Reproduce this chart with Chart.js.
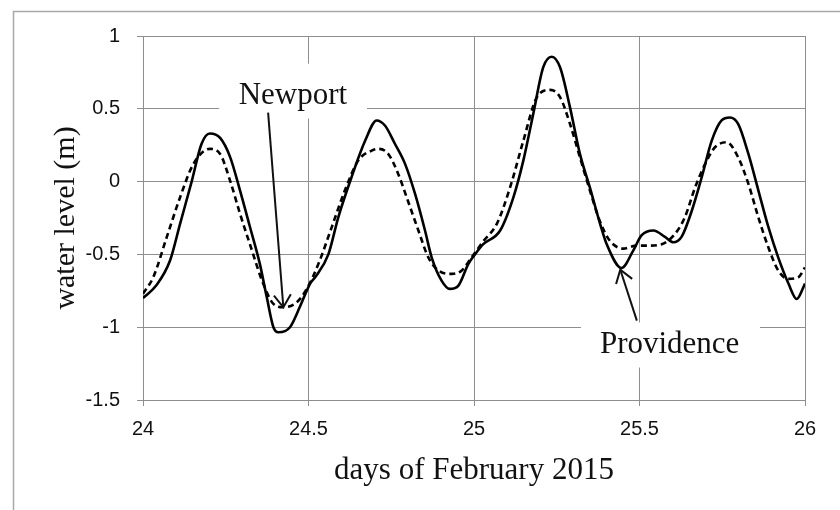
<!DOCTYPE html>
<html>
<head>
<meta charset="utf-8">
<script src="https://cdn.jsdelivr.net/npm/chart.js@4.4.1/dist/chart.umd.min.js"></script>
<style>
  html, body { margin: 0; padding: 0; background: #fff; }
  #wrap { width: 840px; height: 510px; position: relative; }
</style>
</head>
<body>
<div id="wrap"><canvas id="c" width="840" height="510"></canvas></div>
<script>
// ---- data ----
const dayTicks = [24, 24.5, 25, 25.5, 26];
const levelTicks = [-1.5, -1, -0.5, 0, 0.5, 1];

const providenceDays = [24.000, 24.041, 24.082, 24.112, 24.147, 24.177, 24.202, 24.233, 24.263, 24.293,
  24.323, 24.353, 24.374, 24.394, 24.409, 24.444, 24.474, 24.505, 24.520, 24.560,
  24.590, 24.630, 24.671, 24.706, 24.731, 24.761, 24.792, 24.822, 24.852, 24.872,
  24.902, 24.927, 24.953, 24.983, 25.003, 25.028, 25.079, 25.119, 25.149, 25.179,
  25.209, 25.235, 25.260, 25.290, 25.320, 25.350, 25.381, 25.401, 25.446, 25.481,
  25.506, 25.542, 25.577, 25.602, 25.627, 25.658, 25.688, 25.718, 25.748, 25.773,
  25.798, 25.829, 25.859, 25.889, 25.919, 25.950, 25.975, 25.995, 26.000];
const providenceLevel = [-0.80, -0.71, -0.54, -0.29, 0.00, 0.26, 0.33, 0.30, 0.17, -0.06,
  -0.31, -0.565, -0.795, -1.00, -1.035, -1.00, -0.86, -0.70, -0.657, -0.50,
  -0.245, 0.03, 0.28, 0.42, 0.385, 0.26, 0.12, -0.085, -0.336, -0.52,
  -0.68, -0.737, -0.714, -0.565, -0.50, -0.43, -0.336, -0.108, 0.144, 0.465,
  0.785, 0.858, 0.785, 0.51, 0.19, -0.04, -0.29, -0.43, -0.593, -0.474,
  -0.37, -0.336, -0.38, -0.417, -0.38, -0.20, 0.03, 0.28, 0.42, 0.44,
  0.396, 0.19, -0.06, -0.31, -0.52, -0.70, -0.806, -0.726, -0.70];

const newportDays = [24.000, 24.031, 24.072, 24.112, 24.152, 24.202, 24.233, 24.263, 24.293, 24.323,
  24.363, 24.394, 24.424, 24.464, 24.494, 24.530, 24.570, 24.610, 24.650, 24.691,
  24.711, 24.741, 24.771, 24.800, 24.832, 24.862, 24.892, 24.933, 24.963, 24.993,
  25.028, 25.069, 25.109, 25.149, 25.190, 25.230, 25.260, 25.290, 25.320, 25.350,
  25.380, 25.410, 25.451, 25.491, 25.526, 25.567, 25.607, 25.637, 25.668, 25.698,
  25.728, 25.763, 25.798, 25.829, 25.859, 25.889, 25.919, 25.950, 25.980, 26.000];
const newportLevel = [-0.77, -0.657, -0.38, -0.108, 0.12, 0.225, 0.19, 0.007, -0.22, -0.43,
  -0.70, -0.84, -0.863, -0.83, -0.74, -0.565, -0.314, -0.06, 0.144, 0.213,
  0.225, 0.19, 0.053, -0.13, -0.336, -0.52, -0.61, -0.634, -0.61, -0.52,
  -0.41, -0.29, -0.04, 0.28, 0.58, 0.63, 0.58, 0.396, 0.167, -0.06,
  -0.27, -0.405, -0.46, -0.44, -0.44, -0.43, -0.36, -0.245, -0.04, 0.12,
  0.236, 0.27, 0.167, -0.016, -0.245, -0.45, -0.61, -0.668, -0.657, -0.59];

// annotation labels (positions in data units)
const labels = [
  { text: 'Newport',    x: 24.453, y: 0.536,  box: [24.230, 24.677, 0.81, 0.433],
    arrowFrom: [24.378, 0.474], arrowTo: [24.424, -0.863] },
  { text: 'Providence', x: 25.591, y: -1.174, box: [25.323, 25.864, -0.968, -1.277],
    arrowFrom: [25.492, -0.955], arrowTo: [25.442, -0.605] }
];

const toPoints = (xs, ys) => xs.map((x, i) => ({ x: x, y: ys[i] }));

const GRID = '#8e8e8e';

const framePlugin = {
  id: 'frame',
  beforeDraw(chart) {
    const ctx = chart.ctx;
    ctx.save();
    ctx.fillStyle = '#fff';
    ctx.fillRect(0, 0, chart.width, chart.height);
    ctx.strokeStyle = '#a8a8a8';
    ctx.lineWidth = 1.5;
    ctx.strokeRect(13.5, 11.5, 900, 600);
    ctx.restore();
  }
};

function arrow(ctx, x1, y1, x2, y2) {
  ctx.beginPath();
  ctx.moveTo(x1, y1);
  ctx.lineTo(x2, y2);
  ctx.stroke();
  const a = Math.atan2(y2 - y1, x2 - x1);
  const L = 15, h = 0.6;
  ctx.beginPath();
  ctx.moveTo(x2 - L * Math.cos(a - h), y2 - L * Math.sin(a - h));
  ctx.lineTo(x2, y2);
  ctx.lineTo(x2 - L * Math.cos(a + h), y2 - L * Math.sin(a + h));
  ctx.stroke();
}

const annotationPlugin = {
  id: 'notes',
  beforeDatasetsDraw(chart) {
    const ctx = chart.ctx, xs = chart.scales.x, ys = chart.scales.y;
    ctx.save();
    ctx.fillStyle = '#fff';
    labels.forEach(l => {
      const x0 = xs.getPixelForValue(l.box[0]), x1 = xs.getPixelForValue(l.box[1]);
      const y0 = ys.getPixelForValue(l.box[2]), y1 = ys.getPixelForValue(l.box[3]);
      ctx.fillRect(x0, y0, x1 - x0, y1 - y0);
    });
    ctx.restore();
  },
  afterDatasetsDraw(chart) {
    const ctx = chart.ctx, xs = chart.scales.x, ys = chart.scales.y;
    ctx.save();
    ctx.fillStyle = '#111';
    ctx.strokeStyle = '#111';
    ctx.lineWidth = 2;
    ctx.font = '31px "Liberation Serif", "Times New Roman", serif';
    ctx.textAlign = 'center';
    ctx.textBaseline = 'alphabetic';
    labels.forEach(l => {
      ctx.fillText(l.text, xs.getPixelForValue(l.x), ys.getPixelForValue(l.y));
      arrow(ctx,
        xs.getPixelForValue(l.arrowFrom[0]), ys.getPixelForValue(l.arrowFrom[1]),
        xs.getPixelForValue(l.arrowTo[0]), ys.getPixelForValue(l.arrowTo[1]));
    });
    ctx.restore();
  }
};

const PAD_LEFT = 20;

new Chart(document.getElementById('c'), {
  type: 'line',
  data: {
    datasets: [
      {
        label: 'Providence',
        data: toPoints(providenceDays, providenceLevel),
        borderColor: '#000',
        borderWidth: 2.6,
        pointRadius: 0,
        fill: false,
        cubicInterpolationMode: 'monotone'
      },
      {
        label: 'Newport',
        data: toPoints(newportDays, newportLevel),
        borderColor: '#000',
        borderWidth: 2.6,
        borderDash: [6, 4],
        pointRadius: 0,
        fill: false,
        cubicInterpolationMode: 'monotone'
      }
    ]
  },
  options: {
    responsive: false,
    animation: false,
    events: [],
    layout: { padding: { left: PAD_LEFT, right: 35, top: 36, bottom: 0 } },
    plugins: { legend: { display: false }, tooltip: { enabled: false } },
    scales: {
      x: {
        type: 'linear',
        min: 24, max: 26,
        afterBuildTicks: s => { s.ticks = dayTicks.map(v => ({ value: v })); },
        afterFit: s => { s.height = 110; },
        grid: { color: GRID, lineWidth: 1, tickLength: 6, tickColor: GRID, drawTicks: true },
        border: { color: GRID, width: 1 },
        ticks: { color: '#111', padding: 11, maxRotation: 0, autoSkip: false,
          callback: v => String(v),
          font: { family: '"Liberation Sans", Arial, sans-serif', size: 20 } },
        title: { display: true, text: 'days of February 2015', color: '#111',
          padding: { top: 0, bottom: 21 },
          font: { family: '"Liberation Serif", "Times New Roman", serif', size: 31 } }
      },
      y: {
        type: 'linear',
        min: -1.5, max: 1,
        afterBuildTicks: s => { s.ticks = levelTicks.map(v => ({ value: v })); },
        afterFit: s => { s.width = 143 - PAD_LEFT; },
        grid: { color: GRID, lineWidth: 1, tickLength: 6, tickColor: GRID, drawTicks: true },
        border: { color: GRID, width: 1 },
        ticks: { color: '#111', padding: 17, autoSkip: false,
          callback: v => String(v),
          font: { family: '"Liberation Sans", Arial, sans-serif', size: 20 } },
        title: { display: true, text: 'water level (m)', color: '#111',
          padding: { top: 28, bottom: 0 },
          font: { family: '"Liberation Serif", "Times New Roman", serif', size: 30 } }
      }
    }
  },
  plugins: [framePlugin, annotationPlugin]
});
</script>
</body>
</html>
